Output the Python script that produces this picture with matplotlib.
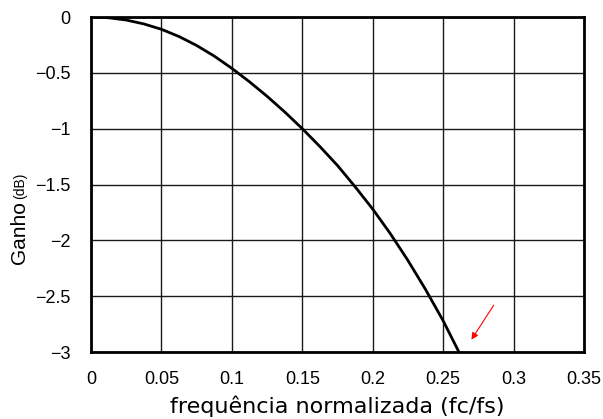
import numpy as np
import matplotlib
matplotlib.use("Agg")
import matplotlib.pyplot as plt

# curve: normalised frequency vs gain (dB)
freq = [0.0, 0.0125, 0.025, 0.0375, 0.05, 0.0625, 0.075, 0.0875, 0.1, 0.1125, 0.125,
        0.1375, 0.15, 0.1625, 0.175, 0.1875, 0.2, 0.2125, 0.225, 0.2375, 0.25, 0.2612]
gain = [0.0, -0.007, -0.027, -0.062, -0.11, -0.175, -0.255, -0.35, -0.46, -0.58, -0.71,
        -0.85, -1.00, -1.16, -1.33, -1.52, -1.72, -1.94, -2.18, -2.44, -2.72, -3.0]

xticks = [0, 0.05, 0.1, 0.15, 0.2, 0.25, 0.3, 0.35]
xticklabels = ["0", "0.05", "0.1", "0.15", "0.2", "0.25", "0.3", "0.35"]
yticks = [0, -0.5, -1, -1.5, -2, -2.5, -3]
yticklabels = ["0", "\u22120.5", "\u22121", "\u22121.5", "\u22122", "\u22122.5", "\u22123"]

fig = plt.figure(figsize=(6.03, 4.19), dpi=100)
ax = fig.add_axes([91/603, 67/419, 493/603, 335/419])

ax.plot(freq, gain, color="black", lw=2.0, zorder=3, solid_joinstyle="round")

ax.set_xlim(0, 0.35)
ax.set_ylim(-3, 0)
ax.set_xticks(xticks)
ax.set_xticklabels(xticklabels, fontfamily="Liberation Sans", fontsize=13)
ax.set_yticks(yticks)
ax.set_yticklabels(yticklabels, fontfamily="Liberation Sans", fontsize=13)
ax.tick_params(axis="y", length=0, pad=15)
ax.tick_params(axis="x", length=0, pad=14)
ax.grid(True, color="#1a1a1a", lw=1.0)
ax.set_axisbelow(True)
for s in ax.spines.values():
    s.set_linewidth(2.0)
    s.set_color("black")

ax.set_xlabel("frequência normalizada (fc/fs)", fontfamily="DejaVu Sans", fontsize=16, labelpad=5)

# y label: big "Ganho" plus small "(dB)"
fig.text(29/603, 1 - 264/419, "Ganho", rotation=90, ha="right", va="bottom",
         fontfamily="Liberation Sans", fontsize=15)
fig.text(27/603, 1 - 199/419, "(dB)", rotation=90, ha="right", va="bottom",
         fontfamily="Liberation Sans", fontsize=10)

# red pointer to where the curve hits -3 dB
ax.annotate("", xy=(0.269, -2.91), xytext=(0.287, -2.56),
            arrowprops=dict(arrowstyle="-|>", color="red", lw=0.8,
                            mutation_scale=10), annotation_clip=False)

fig.savefig("out.png", dpi=100)
